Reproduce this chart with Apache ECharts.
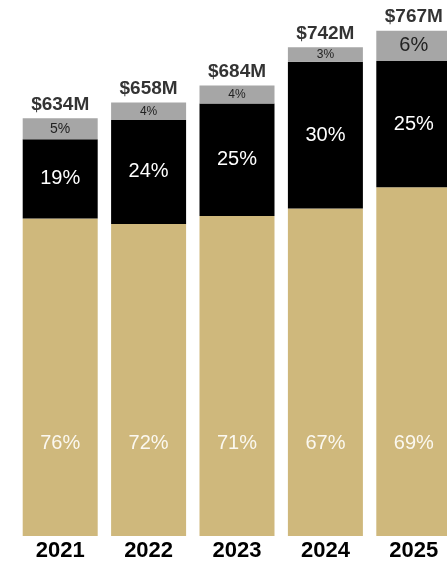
<!DOCTYPE html>
<html>
<head>
<meta charset="utf-8">
<script src="https://cdn.jsdelivr.net/npm/echarts@6/dist/echarts.min.js"></script>
<style>
    html, body { margin: 0; padding: 0; background: #fff; overflow: hidden; }
    /* a bit wider than the window, the last bar runs off the right edge */
    #chart { width: 458px; height: 562px; }
</style>
</head>
<body>
<div id="chart"></div>
<script>
    // values
    const years = ['2021', '2022', '2023', '2024', '2025'];
    const totals = [634, 658, 684, 742, 767];          // $M
    const goldPct = [76, 72, 71, 67, 69];
    const blackPct = [19, 24, 25, 30, 25];
    const grayPct = [5, 4, 4, 3, 6];
    const grayLabelSize = [14, 12, 12, 12, 20];

    const font = '"Liberation Sans", Arial, sans-serif';

    // segment height = share of the yearly total
    function part(pct) {
        return pct.map((p, i) => totals[i] * p / 100);
    }

    let chart = echarts.init(document.getElementById('chart'));

    chart.setOption({
        animation: false,
        grid: { left: 16, right: 0, top: 9, bottom: 26 },
        xAxis: {
            type: 'category',
            data: years,
            axisLine: { show: false },
            axisTick: { show: false },
            axisLabel: {
                margin: 4,
                color: '#000',
                fontFamily: font,
                fontWeight: 'bold',
                fontSize: 22
            }
        },
        yAxis: { type: 'value', min: 0, max: 800, show: false },
        series: [
            {
                type: 'bar',
                stack: 'total',
                barWidth: 75,
                itemStyle: { color: '#cfb87c' },
                label: {
                    show: true,
                    position: 'insideBottom',
                    distance: 83,
                    color: '#fbf8f0',
                    fontFamily: font,
                    fontSize: 20,
                    formatter: (p) => goldPct[p.dataIndex] + '%'
                },
                data: part(goldPct)
            },
            {
                type: 'bar',
                stack: 'total',
                barWidth: 75,
                itemStyle: { color: '#000' },
                label: {
                    show: true,
                    position: 'inside',
                    color: '#fff',
                    fontFamily: font,
                    fontSize: 20,
                    formatter: (p) => blackPct[p.dataIndex] + '%'
                },
                data: part(blackPct)
            },
            {
                type: 'bar',
                stack: 'total',
                barWidth: 75,
                itemStyle: { color: '#a6a6a6' },
                label: {
                    show: true,
                    position: 'inside',
                    color: '#222',
                    fontFamily: font,
                    formatter: (p) => grayPct[p.dataIndex] + '%'
                },
                data: part(grayPct).map((v, i) => ({
                    value: v,
                    label: { fontSize: grayLabelSize[i] }
                }))
            },
            {
                // total on top of each bar
                type: 'scatter',
                symbolSize: 0,
                silent: true,
                label: {
                    show: true,
                    position: 'top',
                    distance: 4,
                    color: '#000',
                    fontFamily: font,
                    fontWeight: 'bold',
                    fontSize: 19,
                    formatter: (p) => '$' + totals[p.dataIndex] + 'M'
                },
                data: totals
            }
        ]
    });
</script>
</body>
</html>
